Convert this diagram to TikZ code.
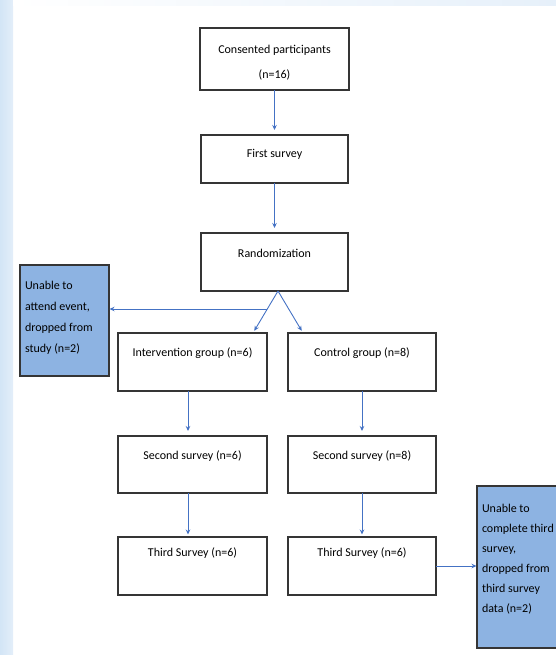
\documentclass[tikz,border=0pt]{standalone}
\usepackage{fontspec}
\setmainfont{Carlito}
\usetikzlibrary{arrows.meta}
\definecolor{arrowblue}{HTML}{4472C4}
\definecolor{dropfill}{HTML}{8DB3E2}
\definecolor{edgegray}{HTML}{353535}
\definecolor{stripblue}{HTML}{D3E5F6}
\definecolor{stripblueb}{HTML}{E3EEF9}
\definecolor{topstrip}{HTML}{E6F0FA}
\newcommand{\boxtext}[5]{\parbox[c][#2][t]{#1}{\fontsize{12}{#4}\selectfont\rule{0pt}{#3}#5}}
\tikzset{
  flow/.style={draw=edgegray, line width=1.1pt, inner sep=0pt, outer sep=0pt, fill=white},
  drop/.style={flow, fill=dropfill},
  arr/.style={draw=arrowblue, line width=0.9pt, -{Stealth[length=5pt,width=4.5pt]}, shorten >=2.5pt}
}
\begin{document}
\begin{tikzpicture}[x=1pt,y=-1pt]
\useasboundingbox (0,0) rectangle (556,655);
\clip (0,0) rectangle (556,655);
% background strips
\shade[left color=stripblue, right color=stripblueb] (0,0) rectangle (13,655);
\shade[left color=white, right color=topstrip] (13,0) rectangle (556,6);

% boxes
\node[flow] (cons) at (274.5,59) {\boxtext{149pt}{62pt}{26pt}{25pt}{\centering Consented participants\\(n=16)}};
\node[flow] (first) at (274.5,159) {\boxtext{147pt}{48pt}{22pt}{14pt}{\centering First survey}};
\node[flow] (rand) at (274.5,262) {\boxtext{147pt}{58pt}{24pt}{14pt}{\centering Randomization}};
\node[drop] (left) at (64.5,320.5) {\boxtext{89pt}{111pt}{24pt}{21pt}{\raggedright\leftskip=5pt Unable to\\attend event,\\dropped from\\study (n=2)}};
\node[flow] (int) at (192.5,362) {\boxtext{149pt}{58pt}{23pt}{14pt}{\centering Intervention group (n=6)}};
\node[flow] (ctrl) at (362,362) {\boxtext{148pt}{58pt}{23pt}{14pt}{\centering Control group (n=8)}};
\node[flow] (sec1) at (192.5,464.5) {\boxtext{149pt}{57pt}{23pt}{14pt}{\centering Second survey (n=6)}};
\node[flow] (sec2) at (362,464.5) {\boxtext{148pt}{57pt}{23pt}{14pt}{\centering Second survey (n=8)}};
\node[flow] (thr1) at (192.5,566) {\boxtext{149pt}{58pt}{19pt}{14pt}{\centering Third Survey (n=6)}};
\node[flow] (thr2) at (362,566) {\boxtext{148pt}{58pt}{19pt}{14pt}{\centering Third Survey (n=6)}};
\node[drop] (right) at (527,567) {\boxtext{100pt}{162pt}{26pt}{20pt}{\raggedright\leftskip=5pt Unable to\\complete third\\survey,\\dropped from\\third survey\\data (n=2)}};

% connectors
\draw[arr, shorten >=5pt] (cons.south) -- (first.north);
\draw[arr, shorten >=5pt] (first.south) -- (rand.north);
\coordinate (split) at ([xshift=3.5pt]rand.south);
\draw[arr] (split) -- ([xshift=-14pt]int.north east);
\draw[arr] (split) -- ([xshift=15pt]ctrl.north west);
\coordinate (fork) at (266.5,309);
\draw[arr, shorten >=0.5pt] (fork) -- (fork -| left.east);
\draw[arr, shorten >=5pt] ([xshift=-4.5pt]int.south) -- ([xshift=-4.5pt]sec1.north);
\draw[arr, shorten >=5pt] (ctrl.south) -- (sec2.north);
\draw[arr] ([xshift=-4.5pt]sec1.south) -- ([xshift=-4.5pt]thr1.north);
\draw[arr] (sec2.south) -- (thr2.north);
\draw[arr, shorten >=0.5pt] (thr2.east) -- (thr2.east -| right.west);
\end{tikzpicture}
\end{document}
